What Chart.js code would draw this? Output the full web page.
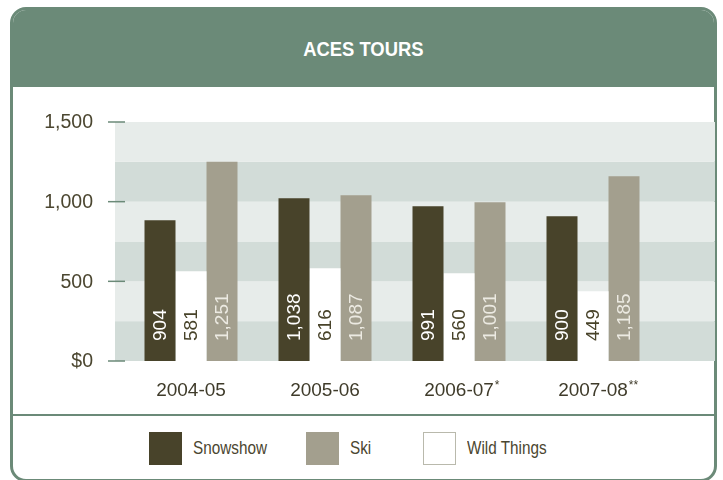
<!DOCTYPE html>
<html>
<head>
<meta charset="utf-8">
<script src="https://cdn.jsdelivr.net/npm/chart.js@4/dist/chart.umd.min.js"></script>
<style>
  body { margin: 0; width: 723px; height: 480px; overflow: hidden; background: #fff; position: relative; }
  .card {
    position: absolute; left: 10px; top: 7px; width: 707px; height: 475px;
    box-sizing: border-box; border: 3px solid #6b8a78; border-radius: 16px;
    background: #fff; overflow: hidden;
  }
  .title {
    height: 77px; background: #6b8a78; color: #fff; text-align: center;
    font: bold 20px 'Liberation Sans', Arial, sans-serif; line-height: 78px;
  }
  .title span { display: inline-block; transform: scaleX(0.92); }
  .divider { position: absolute; left: 0; right: 0; top: 404px; border-top: 2px solid #6b8a78; }
  .legend-item { position: absolute; top: 432px; display: flex; align-items: center; }
  .legend-box { width: 33px; height: 33px; box-sizing: border-box; }
  .legend-label {
    margin-left: 11px; color: #4b4630; display: inline-block;
    font: 18px 'Liberation Sans', Arial, sans-serif;
    transform: scaleX(0.85); transform-origin: left center;
  }
  #chart { position: absolute; left: 0; top: 0; }
</style>
</head>
<body>
<div class="card">
  <div class="title"><span>ACES TOURS</span></div>
  <div class="divider"></div>
</div>
<div id="legend"></div>
<canvas id="chart" width="723" height="480"></canvas>
<script>
// Chart data
const categories = ['2004-05', '2005-06', '2006-07', '2007-08'];
const categoryNotes = ['', '', '*', '**'];
const yTicks = [0, 500, 1000, 1500];

// bar heights as drawn, and the numbers printed on the bars
const snowshowBars = [884, 1022, 971, 909];
const wildThingsBars = [563, 582, 550, 437];
const skiBars = [1250, 1041, 997, 1160];
const snowshowLabels = ['904', '1,038', '991', '900'];
const wildThingsLabels = ['581', '616', '560', '449'];
const skiLabels = ['1,251', '1,087', '1,001', '1,185'];

const colors = { snowshow: '#48432a', ski: '#a39f8e', wild: '#ffffff' };
const labelColors = { snowshow: '#ffffff', ski: '#eceae2', wild: '#48432a' };

// legend order differs from bar order
const legendNames = ['Snowshow', 'Ski', 'Wild Things'];
const legendColors = [colors.snowshow, colors.ski, colors.wild];
const legendX = [149, 306, 423];

// Build legend
const legendEl = document.getElementById('legend');
legendNames.forEach((name, i) => {
  const item = document.createElement('div');
  item.className = 'legend-item';
  item.style.left = legendX[i] + 'px';
  const border = legendColors[i] === '#ffffff' ? 'border:1px solid #b9b9ac;' : '';
  item.innerHTML = `<div class="legend-box" style="background:${legendColors[i]};${border}"></div>
    <span class="legend-label">${name}</span>`;
  legendEl.appendChild(item);
});

const textColor = '#4b4630';
const gridGreen = '#6b8a78';

// Background bands, y ticks and x labels
const axesPlugin = {
  id: 'axesPlugin',
  beforeDatasetsDraw(chart) {
    const { ctx, chartArea, scales: { x, y } } = chart;
    ctx.save();
    for (let v = 0; v < 1500; v += 250) {
      const top = y.getPixelForValue(v + 250);
      const bottom = y.getPixelForValue(v);
      ctx.fillStyle = (v / 250) % 2 === 0 ? '#d2dcd8' : '#e7ecea';
      ctx.fillRect(chartArea.left - 9, top, chartArea.right - chartArea.left + 64, bottom - top);
    }
    ctx.strokeStyle = gridGreen;
    ctx.lineWidth = 1.5;
    ctx.fillStyle = textColor;
    ctx.font = '19.5px "Liberation Sans", Arial, sans-serif';
    ctx.textAlign = 'right';
    ctx.textBaseline = 'middle';
    yTicks.forEach(v => {
      const py = y.getPixelForValue(v);
      ctx.beginPath();
      ctx.moveTo(chartArea.left - 16, py);
      ctx.lineTo(chartArea.left + 1, py);
      ctx.stroke();
      const label = v === 0 ? '$0' : v.toLocaleString('en-US');
      ctx.fillText(label, chartArea.left - 31, py + 1);
    });
    // x labels with small superscript notes
    categories.forEach((c, i) => {
      const px = x.getPixelForValue(i);
      const py = chartArea.bottom + 30;
      ctx.font = '19px "Liberation Sans", Arial, sans-serif';
      ctx.textAlign = 'center';
      ctx.fillStyle = '#3f3b2a';
      ctx.fillText(c, px, py);
      if (categoryNotes[i]) {
        const w = ctx.measureText(c).width;
        ctx.font = '12px "Liberation Sans", Arial, sans-serif';
        ctx.textAlign = 'left';
        ctx.fillText(categoryNotes[i], px + w / 2 + 1, py - 5);
      }
    });
    ctx.restore();
  },
  afterDatasetsDraw(chart) {
    const { ctx } = chart;
    ctx.save();
    ctx.font = '19px "Liberation Sans", Arial, sans-serif';
    ctx.textAlign = 'left';
    ctx.textBaseline = 'middle';
    chart.data.datasets.forEach((ds, di) => {
      chart.getDatasetMeta(di).data.forEach((bar, i) => {
        ctx.save();
        ctx.translate(bar.x + 1, bar.base - 20);
        ctx.rotate(-Math.PI / 2);
        ctx.fillStyle = ds.valueColor;
        ctx.fillText(ds.valueLabels[i], 0, 0);
        ctx.restore();
      });
    });
    ctx.restore();
  }
};

new Chart(document.getElementById('chart'), {
  type: 'bar',
  data: {
    labels: categories,
    datasets: [
      { label: 'Snowshow', data: snowshowBars, backgroundColor: colors.snowshow,
        valueLabels: snowshowLabels, valueColor: labelColors.snowshow },
      { label: 'Wild Things', data: wildThingsBars, backgroundColor: colors.wild,
        valueLabels: wildThingsLabels, valueColor: labelColors.wild },
      { label: 'Ski', data: skiBars, backgroundColor: colors.ski,
        valueLabels: skiLabels, valueColor: labelColors.ski }
    ]
  },
  options: {
    responsive: false,
    animation: false,
    devicePixelRatio: 1,
    layout: { padding: { left: 124, right: 63, top: 122, bottom: 119 } },
    datasets: { bar: { categoryPercentage: 0.694, barPercentage: 1, borderWidth: 0 } },
    plugins: { legend: { display: false }, tooltip: { enabled: false } },
    scales: {
      x: { display: false },
      y: { display: false, min: 0, max: 1500 }
    }
  },
  plugins: [axesPlugin]
});
</script>
</body>
</html>
